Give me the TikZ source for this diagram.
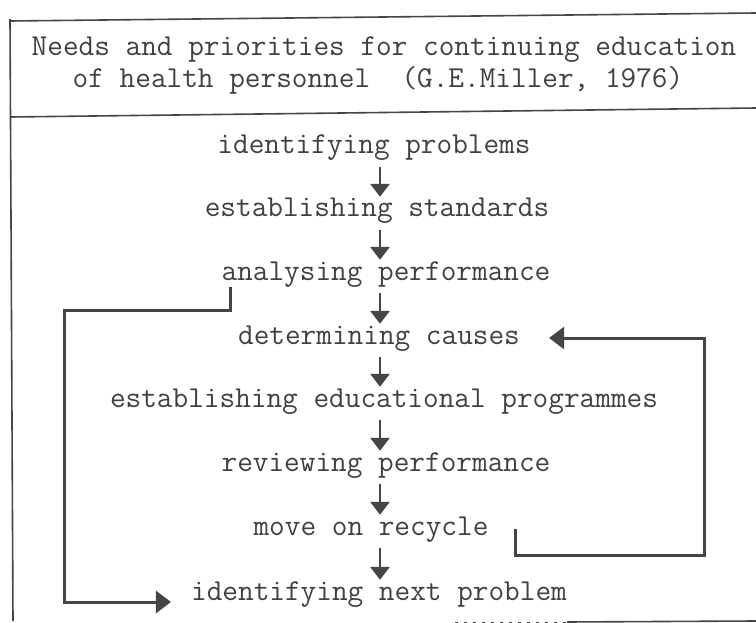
\documentclass[tikz,border=0pt]{standalone}
\usetikzlibrary{arrows.meta,calc}
\definecolor{ink}{HTML}{454545}
\definecolor{txt}{HTML}{404040}
\begin{document}
\begin{tikzpicture}[x=1pt,y=-1pt,
  lbl/.style={inner sep=0pt,text height=19pt,text depth=7pt,text=txt,
    font=\ttfamily\fontsize{30.4}{36}\selectfont},
  frameline/.style={draw=ink,line width=1.6pt},
  flow/.style={draw=ink,line width=2.8pt,-{Triangle[length=13pt,width=19pt]}},
  loopline/.style={draw=ink,line width=3pt,-{Triangle[length=15pt,width=22pt]}}]
\useasboundingbox (0,0) rectangle (756,623);
% frame
\draw[frameline] (10,21) -- (756,13);
\draw[frameline] (10,117) -- (756,108);
\draw[frameline] (10,19) -- (13,621);
\draw[ink,line width=1pt,dash pattern=on 3pt off 6pt] (455,622) -- (567,622);
\draw[frameline] (567,622) -- (756,621);
% title
\node[lbl] (t1) at (384,50) {Needs and priorities for continuing education};
\node[lbl] (t2) at (378,82) {of health personnel\ \ (G.E.Miller, 1976)};
% steps
\node[lbl] (s1) at (374,148) {identifying problems};
\node[lbl] (s2) at (377,211) {establishing standards};
\node[lbl] (s3) at (386,274) {analysing performance};
\node[lbl] (s4) at (379,338) {determining causes};
\node[lbl] (s5) at (384,401) {establishing educational programmes};
\node[lbl] (s6) at (386,465) {reviewing performance};
\node[lbl] (s7) at (371,529) {move on recycle};
\node[lbl] (s8) at (379,594) {identifying next problem};
\coordinate (ax) at (380,0);
\foreach \a/\b in {s1/s2,s2/s3,s3/s4,s4/s5,s5/s6,s6/s7,s7/s8}
  \draw[flow] ([yshift=-6pt]\a.south -| ax) -- ([yshift=1pt]\b.north -| ax);
% left loop
\coordinate (lx1) at (230,0);
\coordinate (lx2) at (64,310);
\draw[loopline] (s3.south -| lx1) |- (lx2) |- ([shift={(-20pt,-8pt)}]s8.west);
% right loop
\coordinate (rx) at (704,555);
\draw[loopline] ([xshift=27pt]s7.east) |- (rx) |- ([xshift=29pt]s4.east);
\end{tikzpicture}
\end{document}
